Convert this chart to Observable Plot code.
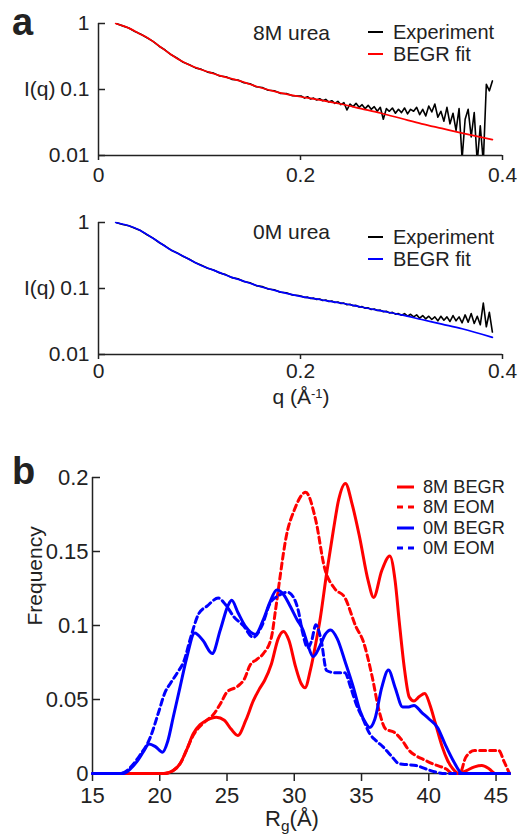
<!DOCTYPE html>
<html><head><meta charset="utf-8">
<script src="https://cdn.jsdelivr.net/npm/d3@7"></script>
<script src="https://cdn.jsdelivr.net/npm/@observablehq/plot@0.6"></script>
<style>
body{margin:0;background:#fff;}
#root{position:relative;width:529px;height:838px;overflow:hidden;background:#fff;font-family:"Liberation Sans",Arial,sans-serif;color:#222;}
.lab{position:absolute;line-height:1;white-space:nowrap;}
</style></head><body><div id="root"></div>
<script>
// ---------- Panel a: SAXS profiles (q in 1/Å, intensities stored as log10 I) ----------
const qExp = [0.018,0.024,0.030,0.036,0.042,0.048,0.054,0.060,0.066,0.072,0.078,0.084,0.090,0.096,0.102,0.108,0.114,0.120,0.126,0.132,0.138,0.144,0.150,0.156,0.162,0.168,0.174,0.180,0.186,0.192,0.198,
0.201,0.204,0.207,0.210,0.213,0.216,0.219,0.222,0.225,0.228,0.231,0.234,0.237,0.240,0.243,0.246,0.249,0.252,0.255,0.258,0.261,0.264,0.267,0.270,0.273,0.276,0.279,0.282,0.285,0.288,0.291,0.294,0.297,0.300,
0.303,0.306,0.309,0.312,0.315,0.318,0.321,0.324,0.327,0.330,0.333,0.336,0.339,0.342,0.345,0.348,0.351,0.354,0.357,0.360,0.363,0.366,0.369,0.372,0.375,0.378,0.381,0.384,0.387,0.390];

const logExp8M = [-0.003,-0.036,-0.068,-0.121,-0.163,-0.216,-0.271,-0.344,-0.402,-0.474,-0.527,-0.588,-0.625,-0.672,-0.695,-0.737,-0.752,-0.796,-0.806,-0.846,-0.855,-0.898,-0.912,-0.958,-0.97,-1.012,-1.018,-1.058,-1.06,-1.095,-1.098,
-1.10,-1.13,-1.11,-1.145,-1.13,-1.16,-1.14,-1.17,-1.15,-1.19,-1.17,-1.21,-1.18,-1.23,-1.20,-1.31,-1.22,-1.26,-1.21,-1.27,-1.23,-1.29,-1.24,-1.30,-1.26,-1.33,-1.27,-1.45,-1.29,-1.33,-1.28,-1.36,-1.30,-1.35,
-1.28,-1.37,-1.30,-1.33,-1.27,-1.38,-1.30,-1.40,-1.25,-1.34,-1.22,-1.42,-1.33,-1.48,-1.27,-1.52,-1.36,-1.62,-1.29,-2.05,-1.45,-1.30,-1.72,-1.35,-2.1,-1.55,-2.1,-0.92,-1.02,-0.87];

const logExp0M = [-0.002,-0.029,-0.048,-0.088,-0.126,-0.185,-0.237,-0.303,-0.357,-0.419,-0.461,-0.515,-0.556,-0.611,-0.649,-0.692,-0.719,-0.764,-0.79,-0.835,-0.853,-0.895,-0.914,-0.956,-0.971,-1.008,-1.02,-1.056,-1.065,-1.098,-1.107,
-1.118,-1.136,-1.131,-1.151,-1.146,-1.165,-1.160,-1.182,-1.175,-1.196,-1.190,-1.212,-1.205,-1.226,-1.222,-1.245,-1.238,-1.262,-1.256,-1.281,-1.275,-1.298,-1.293,-1.318,-1.310,-1.334,-1.328,-1.352,-1.345,-1.370,-1.362,-1.388,-1.380,-1.405,
-1.38,-1.42,-1.39,-1.43,-1.40,-1.45,-1.41,-1.46,-1.42,-1.47,-1.43,-1.49,-1.42,-1.48,-1.43,-1.50,-1.41,-1.49,-1.43,-1.52,-1.40,-1.51,-1.38,-1.53,-1.42,-1.55,-1.22,-1.58,-1.36,-1.66];

const qFit8M = [0.017,0.025,0.03,0.04,0.05,0.06,0.07,0.08,0.09,0.10,0.11,0.12,0.13,0.14,0.15,0.16,0.18,0.20,0.22,0.24,0.26,0.28,0.30,0.32,0.34,0.36,0.39];
const logFit8M = [0,-0.04,-0.07,-0.15,-0.23,-0.34,-0.45,-0.55,-0.63,-0.69,-0.74,-0.79,-0.83,-0.87,-0.92,-0.97,-1.05,-1.11,-1.16,-1.22,-1.29,-1.36,-1.44,-1.52,-1.59,-1.66,-1.76];
const qFit0M = [0.017,0.03,0.04,0.05,0.06,0.07,0.08,0.09,0.10,0.11,0.12,0.13,0.14,0.15,0.16,0.18,0.20,0.22,0.24,0.26,0.28,0.30,0.32,0.34,0.36,0.39];
const logFit0M = [0,-0.05,-0.11,-0.20,-0.30,-0.40,-0.48,-0.56,-0.64,-0.70,-0.76,-0.82,-0.87,-0.92,-0.97,-1.05,-1.12,-1.17,-1.22,-1.28,-1.34,-1.40,-1.47,-1.54,-1.61,-1.74];

const yTicksA = [0.01, 0.1, 1];
const xTicksA = [0, 0.2, 0.4];
const titles = ["8M urea", "0M urea"];
const legendA = ["Experiment", "BEGR fit"];

// ---------- Panel b: Rg distributions ----------
const rgBegr8M = [15,20.3,21.0,21.5,22.0,22.5,23.0,23.5,24.2,24.8,25.3,25.8,26.4,26.95,27.4,27.8,28.3,28.8,29.2,29.6,30.1,30.5,30.8,31.2,31.6,31.9,32.4,32.9,33.3,33.8,34.3,34.85,35.5,35.9,36.5,37.1,37.5,37.8,38.2,38.55,38.9,39.3,39.7,40.1,40.5,41.0,41.4,41.8,42.25,42.8,43.4,43.95,44.5,44.95,46];
const frBegr8M = [0,0,0.002,0.0065,0.016,0.027,0.033,0.036,0.038,0.036,0.030,0.0257,0.036,0.049,0.057,0.063,0.074,0.091,0.096,0.090,0.072,0.061,0.058,0.070,0.088,0.103,0.135,0.164,0.185,0.196,0.182,0.160,0.130,0.119,0.137,0.147,0.130,0.103,0.070,0.0516,0.049,0.052,0.054,0.046,0.0336,0.018,0.0088,0.003,0,0.002,0.0045,0.0054,0.003,0,0];
const rgEom8M = [15,20.4,21.0,21.6,22.0,22.5,23.0,23.5,24.0,24.5,25.0,25.8,26.3,26.7,27.2,27.7,28.3,28.6,28.9,29.4,30.0,30.85,31.6,32.25,33.0,33.75,34.6,35.1,35.8,36.3,36.8,37.4,38.05,38.5,39.05,39.6,40.3,41.3,41.8,42.3,42.75,43.4,44.5,45.2,45.6,46];
const frEom8M = [0,0,0.002,0.008,0.016,0.026,0.032,0.036,0.040,0.047,0.055,0.059,0.064,0.073,0.077,0.081,0.092,0.110,0.130,0.160,0.178,0.190,0.171,0.139,0.125,0.119,0.0989,0.090,0.065,0.0426,0.030,0.028,0.022,0.016,0.012,0.0095,0.0065,0.003,0,0,0.011,0.0155,0.0155,0.0155,0.008,0];
const rgBegr0M = [15,17.3,17.8,18.3,18.8,19.2,19.7,20.2,20.6,21.0,21.5,22.0,22.6,23.2,23.9,24.5,25.1,25.35,25.8,26.4,27.1,27.7,28.2,28.7,29.2,29.7,30.2,30.65,31.0,31.4,31.9,32.3,32.7,33.2,33.8,34.4,34.9,35.35,35.6,36.0,36.5,37.0,37.5,38.05,38.5,38.9,39.5,40.0,40.65,41.2,41.8,42.5,46];
const frBegr0M = [0,0,0.003,0.008,0.015,0.020,0.018,0.0144,0.022,0.038,0.058,0.078,0.095,0.090,0.081,0.097,0.114,0.117,0.109,0.099,0.094,0.104,0.116,0.124,0.121,0.113,0.104,0.097,0.087,0.079,0.086,0.094,0.097,0.091,0.075,0.058,0.042,0.0335,0.031,0.037,0.058,0.070,0.058,0.045,0.045,0.046,0.041,0.037,0.031,0.020,0.009,0,0];
const rgEom0M = [15,17.0,17.5,18.0,18.5,19.3,19.9,20.4,20.8,21.3,21.8,22.3,22.9,23.5,24.35,24.9,25.5,26.2,26.95,27.6,28.2,28.8,29.5,30.0,30.3,30.6,31.0,31.3,31.6,32.0,32.4,33.1,33.75,34.2,34.6,35.1,35.6,36.1,36.6,37.2,37.8,38.4,39.05,39.8,40.5,41.2,46];
const frEom0M = [0,0,0.0015,0.006,0.012,0.0245,0.041,0.055,0.061,0.068,0.076,0.092,0.108,0.113,0.1185,0.114,0.106,0.100,0.092,0.100,0.115,0.120,0.1225,0.118,0.110,0.096,0.085,0.090,0.1005,0.090,0.0696,0.068,0.068,0.058,0.047,0.037,0.027,0.022,0.018,0.012,0.0066,0.006,0.0054,0.003,0.001,0,0];

const yTicksB = [0, 0.05, 0.1, 0.15, 0.2];
const xTicksB = [15, 20, 25, 30, 35, 40, 45];
const legendB = ["8M BEGR", "8M EOM", "0M BEGR", "0M EOM"];

// ---------- helpers ----------
const FONT = '"Liberation Sans", Arial, sans-serif';
const INK = "#222";
const RED = "#ff0000", BLUE = "#0000ff";
const root = document.getElementById("root");
const rows = (xs, ys, f) => xs.map((x, i) => ({x, y: f ? f(ys[i]) : ys[i]}));
const pow10 = v => Math.pow(10, v);

function place(svg, top) {
  svg.style.position = "absolute";
  svg.style.left = "0px";
  svg.style.top = top + "px";
  svg.style.overflow = "visible";
  root.appendChild(svg);
}

function saxsPanel(title, fitColor, qE, logE, qF, logF, height, marginTop, marginBottom, xPad) {
  return Plot.plot({
    width: 529, height, marginLeft: 98, marginRight: 27, marginTop, marginBottom,
    style: {fontFamily: FONT, fontSize: "21px", color: INK, background: "transparent", overflow: "visible"},
    x: {domain: [0, 0.4]},
    y: {type: "log", domain: [0.01, 1]},
    marks: [
      Plot.ruleX([0], {stroke: INK, strokeWidth: 1.5}),
      Plot.ruleY([0.01], {stroke: INK, strokeWidth: 1.5}),
      Plot.axisY(yTicksA, {tickSize: -7, tickPadding: 16, tickFormat: d => String(d), strokeWidth: 1.5, label: null, fontSize: 21}),
      Plot.axisX(xTicksA, {tickSize: 5, tickPadding: xPad, tickFormat: d => String(d), strokeWidth: 1.5, label: null, fontSize: 21}),
      Plot.line(rows(qE, logE, pow10), {x: "x", y: "y", stroke: "#000", strokeWidth: 1.6, clip: true}),
      Plot.line(rows(qF, logF, pow10), {x: "x", y: "y", stroke: fitColor, strokeWidth: 1.7, curve: "monotone-x"}),
      Plot.text([title], {frameAnchor: "top", dx: -9, dy: 2, fontSize: 21, fill: INK}),
      Plot.text(["I(q)"], {frameAnchor: "left", dx: -43, textAnchor: "end", fontSize: 21, fill: INK})
    ]
  });
}

function addLegend(items, {left, top, rowH, lineW, gap, fontSize, strokeWidth}) {
  const NS = "http://www.w3.org/2000/svg";
  const box = document.createElement("div");
  box.style.cssText = `position:absolute;left:${left}px;top:${top}px;`;
  for (const it of items) {
    const row = document.createElement("div");
    row.style.cssText = `display:flex;align-items:center;height:${rowH}px;`;
    const sw = document.createElementNS(NS, "svg");
    sw.setAttribute("width", lineW); sw.setAttribute("height", 6);
    sw.style.marginRight = gap + "px";
    sw.style.flex = "none";
    const ln = document.createElementNS(NS, "line");
    ln.setAttribute("x1", 0); ln.setAttribute("x2", lineW);
    ln.setAttribute("y1", 3); ln.setAttribute("y2", 3);
    ln.setAttribute("stroke", it.color);
    ln.setAttribute("stroke-width", strokeWidth);
    if (it.dash) ln.setAttribute("stroke-dasharray", it.dash);
    sw.appendChild(ln);
    const t = document.createElement("span");
    t.textContent = it.label;
    t.style.cssText = `font-size:${fontSize}px;line-height:1;color:${INK};white-space:nowrap;`;
    row.append(sw, t);
    box.appendChild(row);
  }
  root.appendChild(box);
}

function addLabel(html, {x, baseline, fs, anchor = "start", weight = "normal"}) {
  const d = document.createElement("div");
  d.className = "lab";
  d.innerHTML = html;
  d.style.fontSize = fs + "px";
  d.style.fontWeight = weight;
  d.style.top = (baseline - 0.8465 * fs) + "px";
  d.style.left = x + "px";
  if (anchor === "middle") d.style.transform = "translateX(-50%)";
  root.appendChild(d);
}

// ---------- panel a ----------
place(saxsPanel(titles[0], RED, qExp, logExp8M, qFit8M, logFit8M, 190, 23, 35, 7), 0);
place(saxsPanel(titles[1], BLUE, qExp, logExp0M, qFit0M, logFit0M, 215, 27, 56, 4), 195);

addLegend([{label: legendA[0], color: "#000"}, {label: legendA[1], color: RED}],
  {left: 368, top: 20.6, rowH: 22.4, lineW: 15, gap: 10, fontSize: 20, strokeWidth: 2});
addLegend([{label: legendA[0], color: "#000"}, {label: legendA[1], color: BLUE}],
  {left: 368, top: 225.5, rowH: 22.4, lineW: 15, gap: 10, fontSize: 20, strokeWidth: 2});

addLabel('q (Å<span style="position:relative;top:-0.45em;font-size:0.62em">-1</span>)', {x: 301, baseline: 404, fs: 21, anchor: "middle"});
addLabel("a", {x: 12, baseline: 35, fs: 38, weight: "bold"});

// ---------- panel b ----------
const DASH = "6,4";
const b = Plot.plot({
  width: 529, height: 388, marginLeft: 92, marginRight: 20, marginTop: 27, marginBottom: 65,
  style: {fontFamily: FONT, fontSize: "22px", color: INK, background: "transparent", overflow: "visible"},
  x: {domain: [15, 46]},
  y: {domain: [0, 0.2]},
  marks: [
    Plot.ruleX([15], {stroke: INK, strokeWidth: 1.5}),
    Plot.ruleY([0], {stroke: INK, strokeWidth: 1.5}),
    Plot.axisY(yTicksB, {tickSize: -8, tickPadding: 12, tickFormat: d => String(d), strokeWidth: 1.5, label: null, fontSize: 22}),
    Plot.axisX(xTicksB, {tickSize: 8, tickPadding: 6, tickFormat: d => String(d), strokeWidth: 1.5, label: null, fontSize: 22}),
    Plot.line(rows(rgBegr8M, frBegr8M), {x: "x", y: "y", stroke: RED, strokeWidth: 3, curve: "monotone-x"}),
    Plot.line(rows(rgEom8M, frEom8M), {x: "x", y: "y", stroke: RED, strokeWidth: 3, strokeDasharray: DASH, curve: "monotone-x"}),
    Plot.line(rows(rgBegr0M, frBegr0M), {x: "x", y: "y", stroke: BLUE, strokeWidth: 3, curve: "monotone-x"}),
    Plot.line(rows(rgEom0M, frEom0M), {x: "x", y: "y", stroke: BLUE, strokeWidth: 3, strokeDasharray: DASH, curve: "monotone-x"}),
    Plot.text(["Frequency"], {frameAnchor: "left", rotate: -90, dx: -57, fontSize: 21, fill: INK})
  ]
});
place(b, 450);

addLegend([
  {label: legendB[0], color: RED},
  {label: legendB[1], color: RED, dash: "6,5"},
  {label: legendB[2], color: BLUE},
  {label: legendB[3], color: BLUE, dash: "6,5"}
], {left: 397, top: 476.7, rowH: 20.4, lineW: 17, gap: 9, fontSize: 18.2, strokeWidth: 3});

addLabel('R<span style="position:relative;top:0.28em;font-size:0.7em">g</span>(Å)', {x: 292, baseline: 827, fs: 22, anchor: "middle"});
addLabel("b", {x: 12, baseline: 484, fs: 38, weight: "bold"});
</script></body></html>
